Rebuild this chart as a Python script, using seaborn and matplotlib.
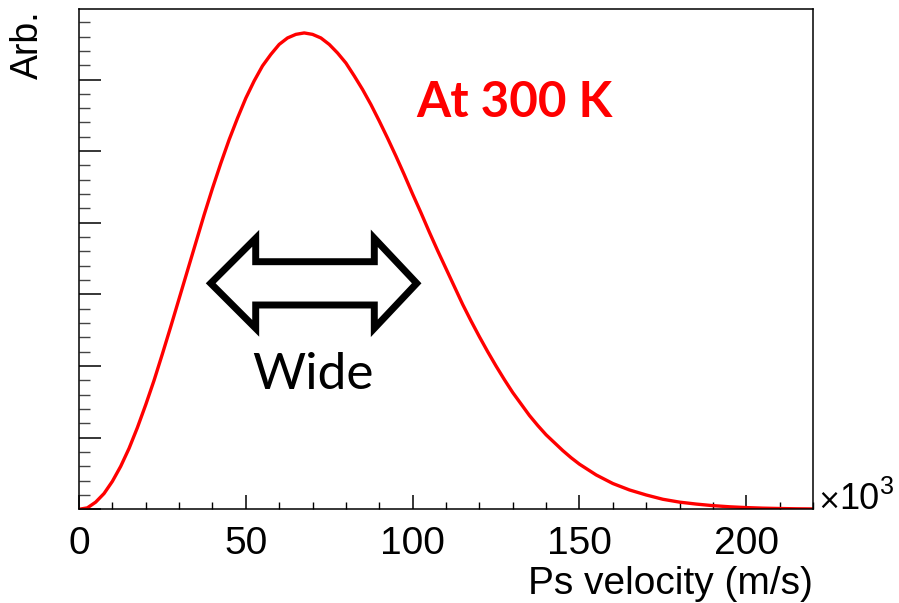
import numpy as np
import pandas as pd
import seaborn as sns
import matplotlib
matplotlib.use("Agg")
import matplotlib.pyplot as plt
from matplotlib.patches import Polygon
from matplotlib.ticker import MultipleLocator, NullFormatter

# Ps velocity (x10^3 m/s) and arbitrary intensity
velocity = [0, 2.5, 5, 7.5, 10, 12.5, 15, 17.5, 20, 22.5, 25, 27.5, 30, 32.5, 35,
            37.5, 40, 42.5, 45, 47.5, 50, 52.5, 55, 57.5, 60, 62.5, 65, 67.5, 70,
            72.5, 75, 77.5, 80, 82.5, 85, 87.5, 90, 92.5, 95, 97.5, 100, 102.5,
            105, 107.5, 110, 112.5, 115, 117.5, 120, 122.5, 125, 127.5, 130,
            132.5, 135, 137.5, 140, 142.5, 145, 147.5, 150, 155, 160, 165, 170,
            175, 180, 185, 190, 195, 200, 205, 210, 215, 220]
intensity = [0.0, 0.02, 0.10, 0.22, 0.39, 0.60, 0.85, 1.14, 1.46, 1.80, 2.17, 2.55,
             2.94, 3.33, 3.72, 4.11, 4.48, 4.83, 5.16, 5.46, 5.74, 5.98, 6.19, 6.35,
             6.49, 6.58, 6.63, 6.65, 6.63, 6.58, 6.49, 6.37, 6.23, 6.05, 5.86, 5.65,
             5.42, 5.18, 4.93, 4.67, 4.40, 4.14, 3.87, 3.61, 3.36, 3.11, 2.86, 2.63,
             2.41, 2.20, 2.00, 1.81, 1.63, 1.47, 1.31, 1.17, 1.04, 0.93, 0.82, 0.72,
             0.63, 0.48, 0.36, 0.27, 0.20, 0.14, 0.10, 0.073, 0.051, 0.035, 0.024,
             0.016, 0.011, 0.007, 0.005]
x_ticks = [0, 50, 100, 150, 200]
x_label = "Ps velocity (m/s)"
y_label = "Arb."
annotation = "At 300 K"
arrow_text = "Wide"

df = pd.DataFrame({"v": velocity, "f": intensity})

sns.set_theme(style="white")
plt.rcParams["font.family"] = ["Liberation Sans", "DejaVu Sans"]
plt.rcParams["text.color"] = "black"
plt.rcParams["xtick.labelcolor"] = "black"

W, H = 899, 603
fig = plt.figure(figsize=(W / 100, H / 100), dpi=100)
ax = fig.add_axes([79 / W, 1 - 509.3 / H, (813 - 79) / W, (509.3 - 9.3) / H])

sns.lineplot(data=df, x="v", y="f", ax=ax, color="#ff0000", linewidth=2.4)

ax.set_xlim(0, 220)
ax.set_ylim(0, 6.98)
ax.set_xticks(x_ticks)
ax.set_xticklabels([str(t) for t in x_ticks])
ax.xaxis.set_minor_locator(MultipleLocator(10))
ax.yaxis.set_major_locator(MultipleLocator(1))
ax.yaxis.set_minor_locator(MultipleLocator(0.2))
ax.yaxis.set_major_formatter(NullFormatter())
ax.tick_params(axis="x", which="major", direction="in", length=10, width=1.1,
               color="black", labelsize=28, labelcolor="black", pad=12,
               bottom=True, top=False)
ax.tick_params(axis="x", which="minor", direction="in", length=5, width=1.0,
               color="black", bottom=True, top=False)
ax.tick_params(axis="y", which="major", direction="in", length=16, width=1.1,
               color="black", left=True, right=False)
ax.tick_params(axis="y", which="minor", direction="in", length=8, width=1.0,
               color="#444444", left=True, right=False)
for s in ax.spines.values():
    s.set_visible(True)
    s.set_color("black")
    s.set_linewidth(1.1)
ax.set_xlabel("")
ax.set_ylabel("")

fig.text(813 / W, 1 - 594 / H, x_label, ha="right", va="baseline", fontsize=28,
         color="black")
fig.text(28 / W, 1 - 10 / H, y_label, ha="center", va="top", rotation=90,
         fontsize=27, color="black")
fig.text(817 / W, 1 - 509 / H, "\u00d7", ha="left", va="baseline", fontsize=20,
         color="black", family=["DejaVu Sans"])
fig.text(839 / W, 1 - 509 / H, "10", ha="left", va="baseline", fontsize=26,
         color="black")
fig.text(880 / W, 1 - 494 / H, "3", ha="left", va="baseline", fontsize=18,
         color="black")

fig.text(416 / W, 1 - 117 / H, annotation, ha="left", va="baseline", fontsize=35.5,
         fontweight="bold", color="#ff0000", family=["Lato", "DejaVu Sans"])
fig.text(313 / W, 1 - 389 / H, arrow_text, ha="center", va="baseline", fontsize=37,
         color="black", family=["Lato", "DejaVu Sans"])

arrow_px = [(210.7, 283.3), (255.7, 238.3), (255.7, 261.7), (374.3, 261.7),
            (374.3, 238.3), (416.7, 283.3), (374.3, 328.3), (374.3, 305),
            (255.7, 305), (255.7, 328.3)]
poly = Polygon([(x / W, 1 - y / H) for x, y in arrow_px], closed=True,
               transform=fig.transFigure, facecolor="white", edgecolor="black",
               linewidth=5, joinstyle="miter")
fig.add_artist(poly)

fig.savefig("out.png", dpi=100)
